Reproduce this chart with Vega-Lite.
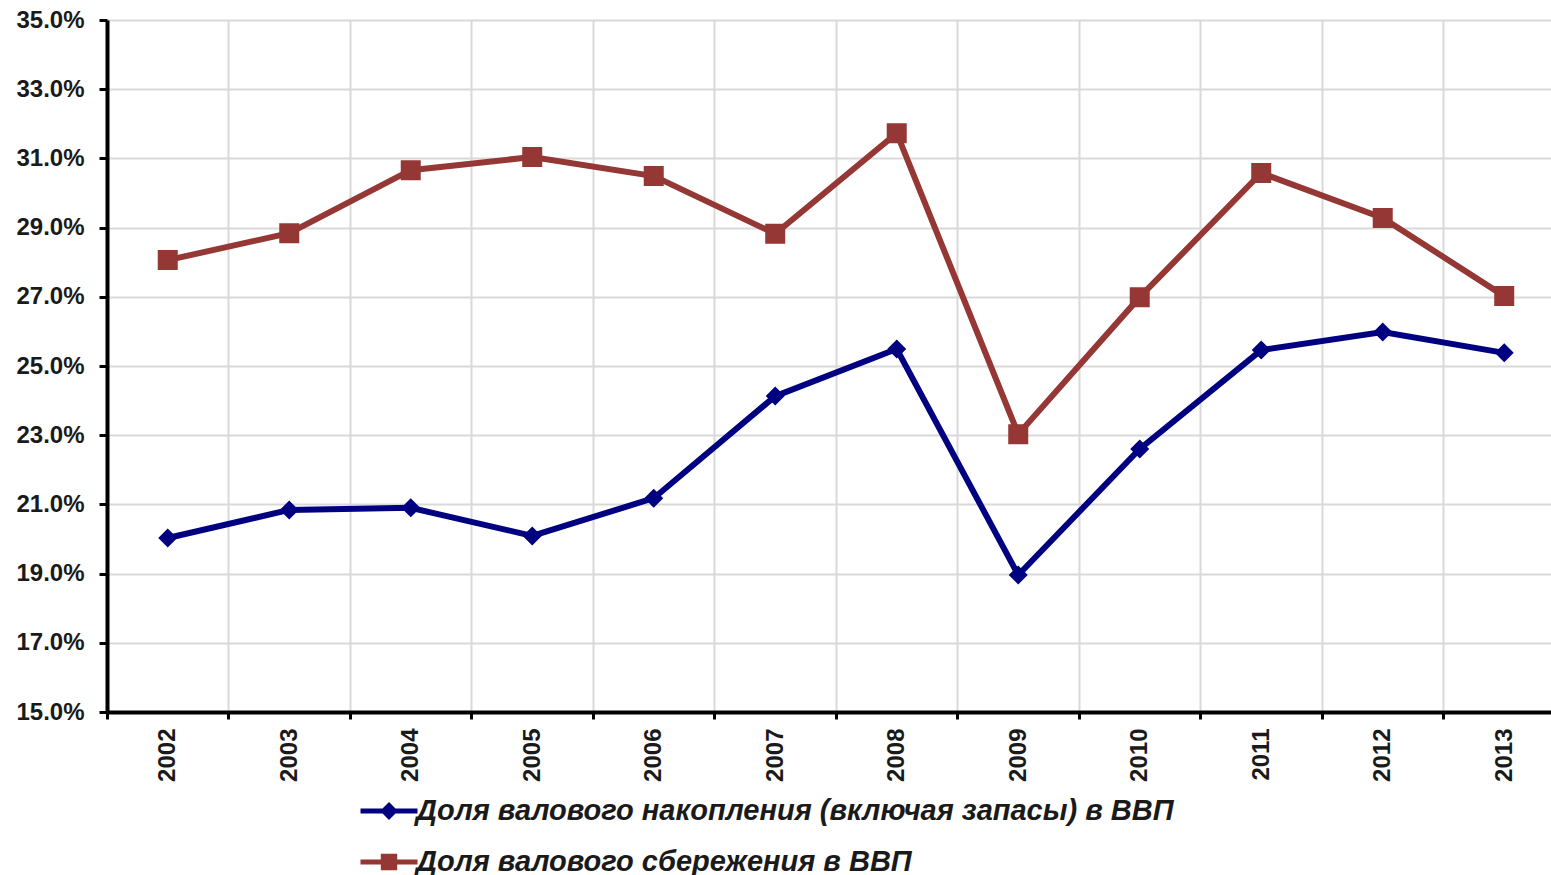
{
  "$schema": "https://vega.github.io/schema/vega-lite/v6.json",
  "width": 1444,
  "height": 692,
  "autosize": {"type": "none"},
  "padding": {"left": 107, "top": 20, "right": 0, "bottom": 163},
  "background": "white",
  "config": {"view": {"stroke": null}, "font": "Liberation Sans"},
  "data": {
    "values": [
      {"series": "Доля валового накопления (включая запасы) в ВВП", "year": 2002, "value": 20.03},
      {"series": "Доля валового накопления (включая запасы) в ВВП", "year": 2003, "value": 20.84},
      {"series": "Доля валового накопления (включая запасы) в ВВП", "year": 2004, "value": 20.9},
      {"series": "Доля валового накопления (включая запасы) в ВВП", "year": 2005, "value": 20.09},
      {"series": "Доля валового накопления (включая запасы) в ВВП", "year": 2006, "value": 21.18},
      {"series": "Доля валового накопления (включая запасы) в ВВП", "year": 2007, "value": 24.13},
      {"series": "Доля валового накопления (включая запасы) в ВВП", "year": 2008, "value": 25.49},
      {"series": "Доля валового накопления (включая запасы) в ВВП", "year": 2009, "value": 18.96},
      {"series": "Доля валового накопления (включая запасы) в ВВП", "year": 2010, "value": 22.6},
      {"series": "Доля валового накопления (включая запасы) в ВВП", "year": 2011, "value": 25.46},
      {"series": "Доля валового накопления (включая запасы) в ВВП", "year": 2012, "value": 25.98},
      {"series": "Доля валового накопления (включая запасы) в ВВП", "year": 2013, "value": 25.38},
      {"series": "Доля валового сбережения в ВВП", "year": 2002, "value": 28.06},
      {"series": "Доля валового сбережения в ВВП", "year": 2003, "value": 28.84},
      {"series": "Доля валового сбережения в ВВП", "year": 2004, "value": 30.66},
      {"series": "Доля валового сбережения в ВВП", "year": 2005, "value": 31.04},
      {"series": "Доля валового сбережения в ВВП", "year": 2006, "value": 30.49},
      {"series": "Доля валового сбережения в ВВП", "year": 2007, "value": 28.82},
      {"series": "Доля валового сбережения в ВВП", "year": 2008, "value": 31.73},
      {"series": "Доля валового сбережения в ВВП", "year": 2009, "value": 23.03},
      {"series": "Доля валового сбережения в ВВП", "year": 2010, "value": 26.99},
      {"series": "Доля валового сбережения в ВВП", "year": 2011, "value": 30.58},
      {"series": "Доля валового сбережения в ВВП", "year": 2012, "value": 29.28},
      {"series": "Доля валового сбережения в ВВП", "year": 2013, "value": 27.02}
    ]
  },
  "encoding": {
    "x": {
      "field": "year",
      "type": "quantitative",
      "scale": {"domain": [2001.5, 2013.385], "nice": false, "zero": false},
      "axis": {
        "title": null,
        "values": [2001.5, 2002, 2002.5, 2003, 2003.5, 2004, 2004.5, 2005, 2005.5, 2006, 2006.5, 2007, 2007.5, 2008, 2008.5, 2009, 2009.5, 2010, 2010.5, 2011, 2011.5, 2012, 2012.5, 2013],
        "labelExpr": "datum.value % 1 === 0 ? format(datum.value, 'd') : ''",
        "labelAngle": 270,
        "labelFont": "Liberation Sans",
        "labelFontSize": 24,
        "labelFontWeight": "bold",
        "labelColor": "#1a1a1a",
        "labelPadding": 9,
        "labelOverlap": false,
        "labelFlush": false,
        "labelBound": false,
        "grid": true,
        "gridColor": {"condition": {"test": "datum.value % 1 === 0", "value": "transparent"}, "value": "#d9d9d9"},
        "gridWidth": 2,
        "ticks": true,
        "tickSize": 7,
        "tickWidth": 3,
        "tickColor": {"condition": {"test": "datum.value % 1 === 0", "value": "transparent"}, "value": "#000000"},
        "domain": true,
        "domainColor": "#000000",
        "domainWidth": 4
      }
    },
    "y": {
      "field": "value",
      "type": "quantitative",
      "scale": {"domain": [15, 35], "nice": false, "zero": false},
      "axis": {
        "title": null,
        "values": [15, 17, 19, 21, 23, 25, 27, 29, 31, 33, 35],
        "labelExpr": "format(datum.value, '.1f') + '%'",
        "labelFont": "Liberation Sans",
        "labelFontSize": 24,
        "labelFontWeight": "bold",
        "labelColor": "#1a1a1a",
        "labelPadding": 15,
        "grid": true,
        "gridColor": "#d9d9d9",
        "gridWidth": 2,
        "tickSize": 8,
        "tickWidth": 3,
        "tickColor": "#000000",
        "domainColor": "#000000",
        "domainWidth": 4
      }
    },
    "color": {
      "field": "series",
      "type": "nominal",
      "scale": {
        "domain": ["Доля валового накопления (включая запасы) в ВВП", "Доля валового сбережения в ВВП"],
        "range": ["#000080", "#953735"]
      },
      "legend": {
        "title": null,
        "orient": "none",
        "legendX": 251,
        "legendY": 760,
        "direction": "vertical",
        "padding": 0,
        "labelFont": "Liberation Sans",
        "labelFontSize": 29,
        "labelFontWeight": "bold",
        "labelFontStyle": "italic",
        "labelColor": "#1a1a1a",
        "labelLimit": 0,
        "labelOffset": -4,
        "rowPadding": 4,
        "symbolSize": 3249,
        "encode": {
          "symbols": {
            "update": {
              "stroke": {"signal": "datum.index === 0 ? '#000080' : '#953735'"},
              "fill": {"signal": "datum.index === 0 ? '#000080' : '#953735'"},
              "strokeWidth": {"value": 5},
              "opacity": {"value": 1},
              "fillOpacity": {"value": 1},
              "strokeOpacity": {"value": 1}
            }
          }
        }
      }
    }
  },
  "layer": [
    {"mark": {"type": "line", "strokeWidth": 6}},
    {
      "mark": {"type": "point", "filled": true, "opacity": 1, "size": 10000},
      "encoding": {
        "shape": {
          "field": "series",
          "type": "nominal",
          "scale": {
            "domain": ["Доля валового накопления (включая запасы) в ВВП", "Доля валового сбережения в ВВП"],
            "range": ["M-1,0L1,0M0,-0.19L0.19,0L0,0.19L-0.19,0Z", "M-1,0L1,0M-0.2,-0.2L0.2,-0.2L0.2,0.2L-0.2,0.2Z"]
          },
          "legend": {
            "title": null,
            "orient": "none",
            "legendX": 251,
            "legendY": 760,
            "direction": "vertical",
            "padding": 0,
            "labelFont": "Liberation Sans",
            "labelFontSize": 29,
            "labelFontWeight": "bold",
            "labelFontStyle": "italic",
            "labelColor": "#1a1a1a",
            "labelLimit": 0,
            "labelOffset": -4,
            "rowPadding": 4,
            "symbolSize": 3249,
            "encode": {
              "symbols": {
                "update": {
                  "stroke": {"signal": "datum.index === 0 ? '#000080' : '#953735'"},
                  "fill": {"signal": "datum.index === 0 ? '#000080' : '#953735'"},
                  "strokeWidth": {"value": 5},
                  "opacity": {"value": 1},
                  "fillOpacity": {"value": 1},
                  "strokeOpacity": {"value": 1}
                }
              }
            }
          }
        }
      }
    }
  ]
}
